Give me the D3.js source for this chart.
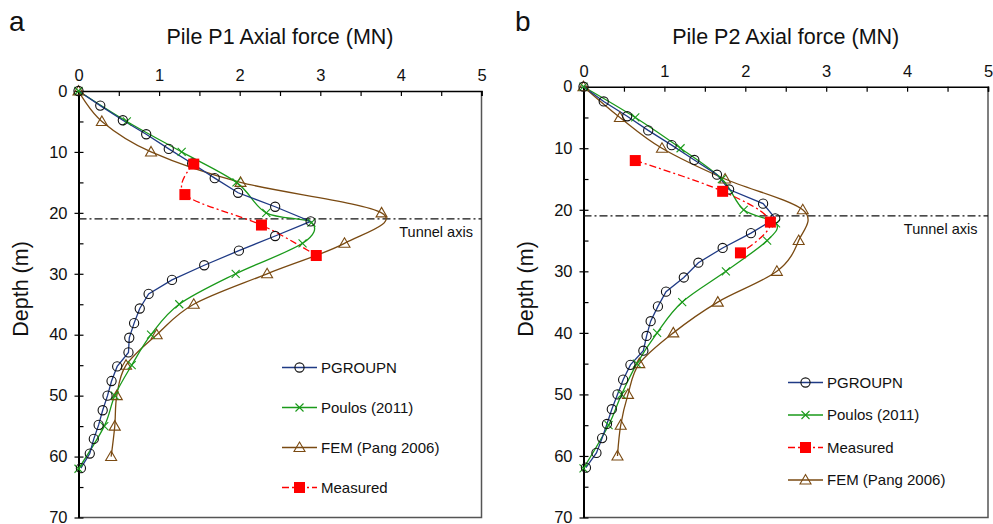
<!DOCTYPE html>
<html><head><meta charset="utf-8">
<script src="https://cdn.jsdelivr.net/npm/d3@7"></script>
<style>body{margin:0;background:#fff}svg{display:block;font-family:Arial,"Liberation Sans",sans-serif}</style>
</head><body>
<svg id="chart" width="993" height="524"></svg>
<script>
// ---------- DATA ----------
const xTicks = [0, 1, 2, 3, 4, 5];
const yTicks = [0, 10, 20, 30, 40, 50, 60, 70];
const tunnelDepth = 21;

// Pile P1
const p1PgroupnDepth = [0, 2.4, 4.8, 7.1, 9.5, 11.9, 14.3, 16.7, 19.0, 21.4, 23.8, 26.2, 28.6, 31.0, 33.3, 35.7, 38.1, 40.5, 42.9, 45.2, 47.6, 50.0, 52.4, 54.8, 57.1, 59.5, 61.9];
const p1PgroupnForce = [0, 0.27, 0.55, 0.84, 1.12, 1.41, 1.69, 1.98, 2.44, 2.88, 2.44, 1.99, 1.56, 1.16, 0.87, 0.76, 0.69, 0.63, 0.62, 0.48, 0.41, 0.36, 0.30, 0.25, 0.19, 0.14, 0.03];
const p1PoulosDepth = [0, 5, 10, 15, 20, 21.6, 25, 30, 35, 40, 45, 50, 55, 62];
const p1PoulosForce = [0, 0.60, 1.28, 1.96, 2.33, 2.89, 2.78, 1.95, 1.25, 0.90, 0.66, 0.45, 0.32, 0.0];
const p1FemDepth = [0, 5, 10, 15, 20, 25, 30, 35, 40, 45, 50, 55, 60];
const p1FemForce = [0, 0.29, 0.90, 2.01, 3.76, 3.30, 2.34, 1.43, 0.97, 0.59, 0.475, 0.45, 0.405];
const p1MeasDepth = [12, 17, 22, 27];
const p1MeasForce = [1.43, 1.32, 2.27, 2.95];

// Pile P2
const p2PgroupnDepth = [0, 2.4, 4.8, 7.1, 9.5, 11.9, 14.3, 16.7, 19.0, 21.4, 23.8, 26.2, 28.6, 31.0, 33.3, 35.7, 38.1, 40.5, 42.9, 45.2, 47.6, 50.0, 52.4, 54.8, 57.1, 59.5, 61.9];
const p2PgroupnForce = [0, 0.25, 0.54, 0.80, 1.09, 1.37, 1.65, 1.80, 2.22, 2.37, 2.07, 1.72, 1.42, 1.24, 1.02, 0.92, 0.83, 0.78, 0.74, 0.58, 0.49, 0.42, 0.35, 0.29, 0.23, 0.16, 0.03];
const p2PoulosDepth = [0, 5, 10, 15, 20, 22.2, 25, 30, 35, 40, 45, 50, 55, 62];
const p2PoulosForce = [0, 0.64, 1.20, 1.71, 1.98, 2.38, 2.27, 1.76, 1.22, 0.91, 0.66, 0.47, 0.31, 0.0];
const p2FemDepth = [0, 5, 10, 15, 20, 25, 30, 35, 40, 45, 50, 55, 60];
const p2FemForce = [0, 0.45, 0.97, 1.75, 2.71, 2.66, 2.39, 1.66, 1.11, 0.69, 0.55, 0.46, 0.42];
const p2MeasDepth = [12, 17, 22, 27];
const p2MeasForce = [0.64, 1.72, 2.31, 1.94];

const seriesNames = {pg: "PGROUPN", po: "Poulos (2011)", fem: "FEM (Pang 2006)", meas: "Measured"};

// ---------- STYLE ----------
const C = {pg: "#1f3a85", po: "#1a9a1a", fem: "#7a4a12", meas: "#ff0000", circ: "#111"};

const svg = d3.select("#chart");

function zip(f, d) { return f.map((v, i) => ({x: v, y: d[i]})); }

function drawPanel(o) {
  const g = svg.append("g");
  const x = d3.scaleLinear().domain([0, 5]).range([o.x0, o.x1]);
  const y = d3.scaleLinear().domain([0, 70]).range([o.y0, o.y1]);

  // frame right/bottom (grey)
  g.append("path").attr("d", `M${x(0)},${y(70)}H${x(5)}V${y(0)}`)
    .attr("fill", "none").attr("stroke", "#555").attr("stroke-width", 1.5);

  // top axis
  const top = d3.axisTop(x).tickValues(d3.range(0, 5.01, 0.5)).tickSize(-5)
    .tickFormat(d => xTicks.includes(d) ? d3.format("d")(d) : "");
  const ga = g.append("g").attr("transform", `translate(0,${y(0)})`).call(top);
  ga.select(".domain").attr("stroke", "#000").attr("stroke-width", 1.6);
  ga.selectAll(".tick line").attr("stroke", "#000").attr("stroke-width", 1.2);
  ga.selectAll(".tick text").attr("font-size", 16.5).attr("fill", "#111").attr("y", -10);

  // left axis
  const left = d3.axisLeft(y).tickValues(d3.range(0, 70.1, 5)).tickSize(0)
    .tickFormat(d => yTicks.includes(d) ? d3.format("d")(d) : "");
  const gl = g.append("g").attr("transform", `translate(${x(0)},0)`).call(left);
  gl.select(".domain").attr("stroke", "#000").attr("stroke-width", 2);
  gl.selectAll(".tick line").attr("stroke", "#000").attr("stroke-width", 1.2)
    .attr("x1", d => yTicks.includes(d) ? -4 : 0).attr("x2", 5);
  gl.selectAll(".tick text").attr("font-size", 16.5).attr("fill", "#111").attr("x", -11);

  // titles
  g.append("text").attr("x", (o.x0 + o.x1) / 2).attr("y", 44).attr("text-anchor", "middle")
    .attr("font-size", 21.5).attr("fill", "#111").text(o.title);
  g.append("text").attr("x", o.letterX).attr("y", 31).attr("font-size", 28).attr("fill", "#111").text(o.letter);
  g.append("text").attr("transform", `translate(${o.ylabX},${o.ylabY}) rotate(-90)`)
    .attr("text-anchor", "middle").attr("font-size", 21.5).attr("fill", "#111").text("Depth (m)");

  // tunnel axis
  g.append("line").attr("x1", x(0)).attr("x2", x(5)).attr("y1", y(tunnelDepth)).attr("y2", y(tunnelDepth))
    .attr("stroke", "#111").attr("stroke-width", 1.2).attr("stroke-dasharray", "8,3,2,3");
  g.append("text").attr("x", x(o.tunnelLabelX)).attr("y", y(tunnelDepth) + 18).attr("font-size", 14.5)
    .attr("fill", "#111").text("Tunnel axis");

  const line = d3.line().x(d => x(d.x)).y(d => y(d.y)).curve(d3.curveCardinal.tension(0));
  const lineLin = d3.line().x(d => x(d.x)).y(d => y(d.y));

  // series lines
  g.append("path").datum(zip(o.fem[0], o.fem[1])).attr("d", line).attr("fill", "none").attr("stroke", C.fem).attr("stroke-width", 1.3);
  g.append("path").datum(zip(o.po[0], o.po[1])).attr("d", line).attr("fill", "none").attr("stroke", C.po).attr("stroke-width", 1.3);
  g.append("path").datum(zip(o.pg[0], o.pg[1])).attr("d", lineLin).attr("fill", "none").attr("stroke", C.pg).attr("stroke-width", 1.3);
  g.append("path").datum(zip(o.meas[0], o.meas[1])).attr("d", line).attr("fill", "none").attr("stroke", C.meas).attr("stroke-width", 1.3).attr("stroke-dasharray", "7,3,2,3");

  // markers
  const markers = {
    pg: (s, px, py) => s.append("circle").attr("cx", px).attr("cy", py).attr("r", 4.6).attr("fill", "none").attr("stroke", C.circ).attr("stroke-width", 1.1),
    po: (s, px, py) => s.append("path").attr("d", `M${px-4},${py-4}L${px+4},${py+4}M${px-4},${py+4}L${px+4},${py-4}`).attr("stroke", C.po).attr("stroke-width", 1.1),
    fem: (s, px, py) => s.append("path").attr("d", `M${px},${py-5.5}L${px+5.5},${py+4}L${px-5.5},${py+4}Z`).attr("fill", "none").attr("stroke", C.fem).attr("stroke-width", 1.1),
    meas: (s, px, py) => s.append("rect").attr("x", px - 5.5).attr("y", py - 5.5).attr("width", 11).attr("height", 11).attr("fill", C.meas)
  };
  ["fem", "po", "pg", "meas"].forEach(k => {
    zip(o[k][0], o[k][1]).forEach(d => markers[k](g, x(d.x), y(d.y)));
  });

  // legend
  o.legend.forEach((k, i) => {
    const ly = o.legY0 + i * o.legDy;
    const lx = o.legX;
    const ln = g.append("line").attr("x1", lx).attr("x2", lx + 35).attr("y1", ly).attr("y2", ly)
      .attr("stroke", C[k]).attr("stroke-width", 1.3);
    if (k === "meas") ln.attr("stroke-dasharray", "7,3,2,3");
    markers[k](g, lx + 17.5, ly);
    g.append("text").attr("x", lx + 39).attr("y", ly + 5).attr("font-size", 15).attr("fill", "#111").text(seriesNames[k]);
  });
}

drawPanel({
  x0: 78.5, x1: 481.5, y0: 91, y1: 517.5, title: "Pile P1 Axial force (MN)", letter: "a", letterX: 9, ylabX: 28, ylabY: 289,
  tunnelLabelX: 3.98,
  pg: [p1PgroupnForce, p1PgroupnDepth], po: [p1PoulosForce, p1PoulosDepth],
  fem: [p1FemForce, p1FemDepth], meas: [p1MeasForce, p1MeasDepth],
  legend: ["pg", "po", "fem", "meas"], legX: 282, legY0: 367.5, legDy: 40
});
drawPanel({
  x0: 583.5, x1: 988, y0: 86.7, y1: 517.5, title: "Pile P2 Axial force (MN)", letter: "b", letterX: 515, ylabX: 533, ylabY: 289,
  tunnelLabelX: 3.96,
  pg: [p2PgroupnForce, p2PgroupnDepth], po: [p2PoulosForce, p2PoulosDepth],
  fem: [p2FemForce, p2FemDepth], meas: [p2MeasForce, p2MeasDepth],
  legend: ["pg", "po", "meas", "fem"], legX: 788, legY0: 382.5, legDy: 32.5
});
</script>
</body></html>
